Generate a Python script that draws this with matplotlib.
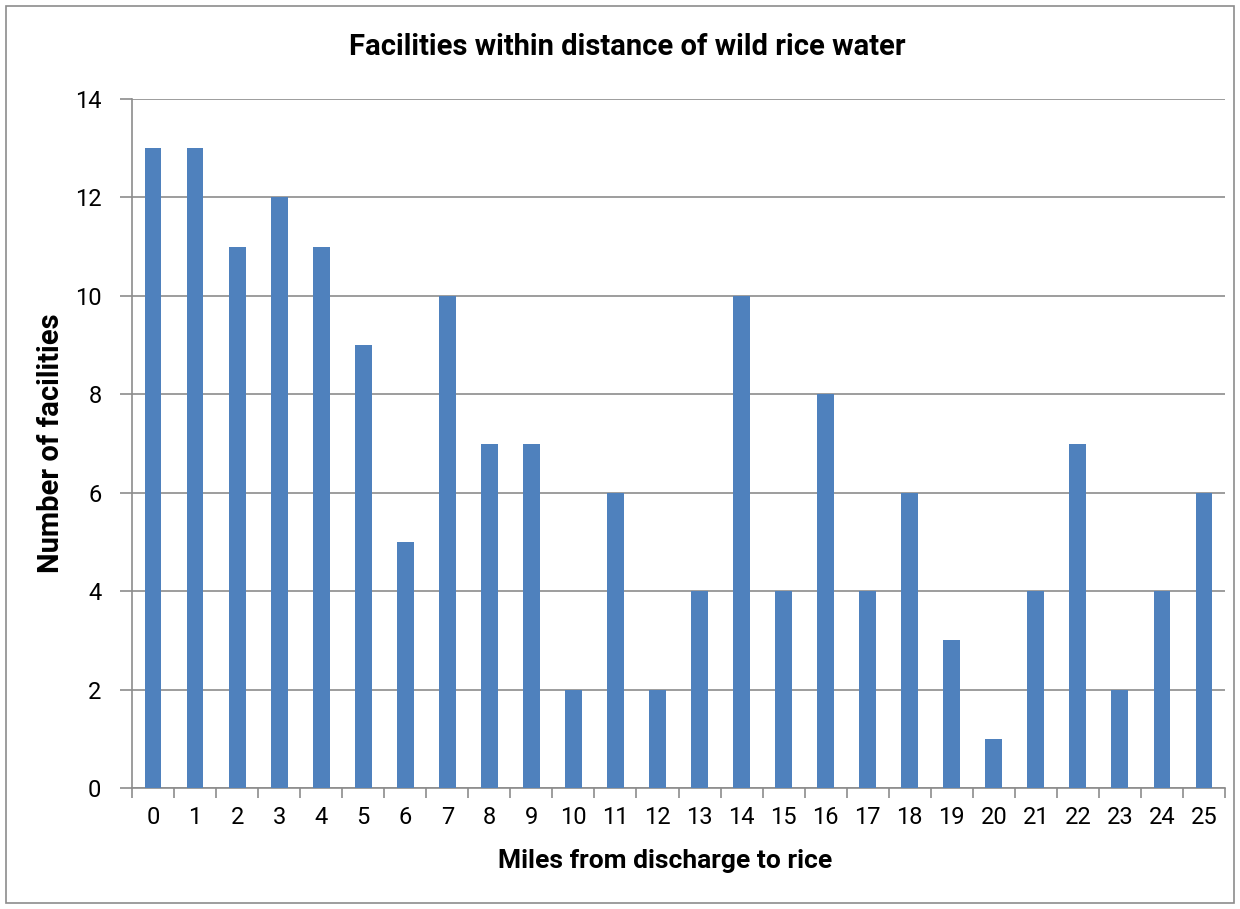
import matplotlib.pyplot as plt
from matplotlib.patches import Rectangle
from matplotlib.ticker import FixedLocator

miles = list(range(26))
facilities = [13, 13, 11, 12, 11, 9, 5, 10, 7, 7, 2, 6, 2, 4, 10, 4, 8, 4, 6, 3, 1, 4, 7, 2, 4, 6]
y_ticks = [0, 2, 4, 6, 8, 10, 12, 14]

plt.rcParams['font.family'] = ['Roboto', 'DejaVu Sans']
grey = '#8c8c8c'

fig = plt.figure(figsize=(12.4, 9.09), dpi=100)
ax = fig.add_axes([132 / 1240, 1 - 788 / 909, (1225 - 132) / 1240, (788 - 99) / 909])

# outer chart border
fig.patches.append(Rectangle((6 / 1240, 6 / 909), 1228 / 1240, 897 / 909,
                             transform=fig.transFigure, fill=False,
                             edgecolor=grey, linewidth=1.2))

ax.bar(miles, facilities, width=0.4, color='#4F81BD', zorder=3)

ax.set_xlim(-0.5, 25.5)
ax.set_ylim(0, 14)
ax.set_yticks(y_ticks)
ax.set_xticks(miles)
ax.set_xticklabels([str(m) for m in miles])
ax.xaxis.set_minor_locator(FixedLocator([m - 0.5 for m in miles] + [25.5]))

ax.grid(axis='y', color=grey, linewidth=1.2, zorder=0)
ax.tick_params(axis='x', which='major', length=0, pad=13, labelsize=17)
ax.tick_params(axis='x', which='minor', length=7, color=grey, width=1.2, direction='out')
ax.tick_params(axis='y', length=9, color=grey, width=1.2, pad=13, labelsize=17)

for side in ['top', 'right']:
    ax.spines[side].set_visible(False)
for side in ['left', 'bottom']:
    ax.spines[side].set_color(grey)
    ax.spines[side].set_linewidth(1.2)

fig.text(0.506, 1 - 47 / 909, 'Facilities within distance of wild rice water',
         fontsize=21, fontweight='bold', ha='center', va='center')
ax.set_xlabel('Miles from discharge to rice', fontsize=19, fontweight='bold', labelpad=10)
ax.xaxis.set_label_coords((665 - 132) / 1093, -0.088)
ax.set_ylabel('Number of facilities', fontsize=21, fontweight='bold', labelpad=7)

fig.savefig('out.png', dpi=100)
